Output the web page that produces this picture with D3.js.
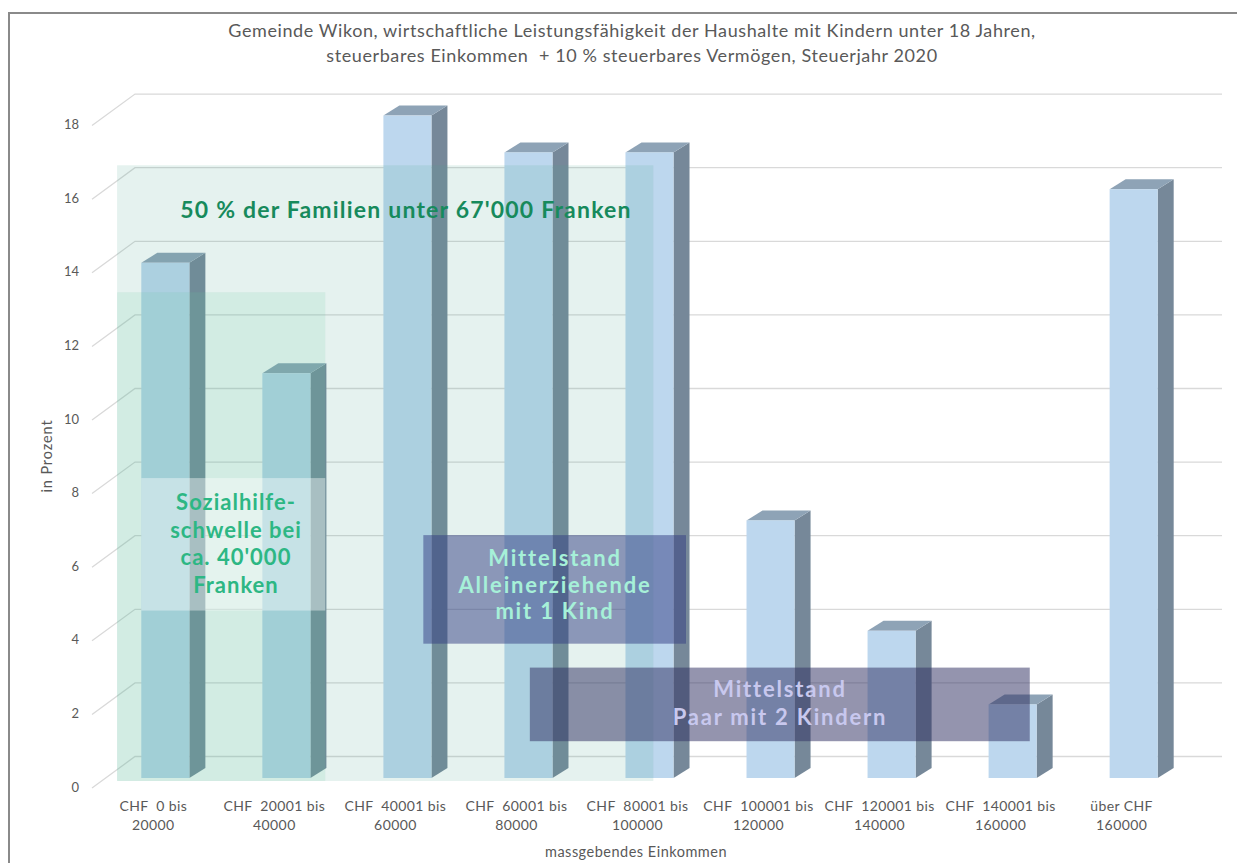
<!DOCTYPE html>
<html><head><meta charset="utf-8">
<script src="https://cdn.jsdelivr.net/npm/d3@7/dist/d3.min.js"></script>
<style>
html,body{margin:0;padding:0;background:#fff;}
svg{display:block;font-family:Lato,"Open Sans",sans-serif;}
</style></head>
<body><svg id="c" width="1237" height="863"></svg>
<script>
// ---- data ----
const categories = ["0-20000","20001-40000","40001-60000","60001-80000","80001-100000","100001-120000","120001-140000","140001-160000","über 160000"];
const labelLine1 = ["CHF  0 bis","CHF  20001 bis","CHF  40001 bis","CHF  60001 bis","CHF  80001 bis","CHF  100001 bis","CHF  120001 bis","CHF  140001 bis","über CHF"];
const labelLine2 = ["20000","40000","60000","80000","100000","120000","140000","160000","160000"];
const values = [14, 11, 18, 17, 17, 7, 4, 2, 16];
const yTicks = [0, 2, 4, 6, 8, 10, 12, 14, 16, 18];
const titleLines = ["Gemeinde Wikon, wirtschaftliche Leistungsfähigkeit der Haushalte mit Kindern unter 18 Jahren,",
                    "steuerbares Einkommen  + 10 % steuerbares Vermögen, Steuerjahr 2020"];
// annotation regions in data units (category index span, value span)
const annoFamilien = {i0: -0.2, i1: 4.23, v0: -0.08, v1: 16.65, text: ["50 % der Familien unter 67'000 Franken"]};
const annoSozial = {i0: -0.2, i1: 1.52, v0: -0.08, v1: 13.2, text: ["Sozialhilfe-","schwelle bei","ca. 40'000","Franken"]};
const annoAllein = {i0: 2.33, i1: 4.5, v0: 3.65, v1: 6.6, text: ["Mittelstand","Alleinerziehende","mit 1 Kind"]};
const annoPaar = {i0: 3.21, i1: 7.34, v0: 1.0, v1: 3.0, text: ["Mittelstand","Paar mit 2 Kindern"]};

const svg = d3.select("#c");
const W = 1237, H = 863;

// border
svg.append("rect").attr("x", 9).attr("y", 13).attr("width", W).attr("height", H)
  .attr("fill", "none").attr("stroke", "#8a8a8a").attr("stroke-width", 2);

// scales
const y = d3.scaleLinear().domain([0, 18]).range([778, 778 - 18 * 36.8]);
const x = d3.scaleBand().domain(categories).range([105, 1194]).paddingInner(0.603).paddingOuter(0.3);
const bw = x.bandwidth();
const step = x.step();
// 3D offsets
const wallDY = -21.5;   // back wall relative to bar front plane
const floorDY = 10;     // front floor edge relative to bar front plane
const sideDX = 16, sideDY = -10;     // bar depth
const wallRight = 1222;
const xLeftFront = 92, xLeftBack = 135;

// grid
svg.append("g").selectAll("path").data(yTicks).join("path")
  .attr("fill", "none").attr("stroke", "#d9d9d9").attr("stroke-width", 1.3)
  .attr("d", v => `M${xLeftFront},${y(v) + floorDY}L${xLeftBack},${y(v) + wallDY}L${wallRight},${y(v) + wallDY}`);

// y tick labels
svg.append("g").selectAll("text").data(yTicks).join("text")
  .attr("x", 79).attr("y", v => y(v) + 9).attr("dy", "0.35em")
  .attr("text-anchor", "end").attr("fill", "#595959").attr("font-size", 13)
  .text(d => d);

// bars
const bars = svg.append("g").selectAll("g").data(values).join("g");
bars.append("path").attr("fill", "#768899")
  .attr("d", (v, i) => {
    const x1 = x(categories[i]) + bw, t = y(v), b = y(0);
    return `M${x1},${t}L${x1 + sideDX},${t + sideDY}L${x1 + sideDX},${b + sideDY}L${x1},${b}Z`;
  });
bars.append("path").attr("fill", "#8ea3b6")
  .attr("d", (v, i) => {
    const x0 = x(categories[i]), t = y(v);
    return `M${x0},${t}L${x0 + sideDX},${t + sideDY}L${x0 + bw + sideDX},${t + sideDY}L${x0 + bw},${t}Z`;
  });
bars.append("rect").attr("fill", "#bdd7ee")
  .attr("x", (v, i) => x(categories[i])).attr("width", bw)
  .attr("y", v => y(v)).attr("height", v => y(0) - y(v));

// x labels
const xl = svg.append("g").attr("fill", "#595959").attr("font-size", 14)
  .attr("letter-spacing", 0.4).attr("text-anchor", "middle");
categories.forEach((c, i) => {
  const cx = x(c) + bw / 2 - 12;
  const t = xl.append("text").attr("x", cx).attr("y", 811).style("white-space", "pre");
  t.append("tspan").attr("x", cx).attr("dy", 0).text(labelLine1[i]);
  t.append("tspan").attr("x", cx).attr("dy", 19).text(labelLine2[i]);
});

// axis titles
svg.append("text").attr("x", 636).attr("y", 857).attr("text-anchor", "middle")
  .attr("fill", "#595959").attr("font-size", 14.5).attr("letter-spacing", 0.5).text("massgebendes Einkommen");
svg.append("text").attr("transform", "translate(52,456) rotate(-90)").attr("text-anchor", "middle")
  .attr("fill", "#595959").attr("font-size", 14.5).attr("letter-spacing", 0.9).text("in Prozent");

// title
svg.append("g").selectAll("text").data(titleLines).join("text")
  .attr("x", 632).attr("y", (d, i) => 37 + i * 25).attr("text-anchor", "middle")
  .attr("fill", "#595959").attr("font-size", 18).attr("letter-spacing", 0.6)
  .style("white-space", "pre").text(d => d);

// annotation helper: index -> x position on bar front plane
const ix = i => x(categories[0]) + i * step;
function box(a, fill, op) {
  return svg.append("rect").attr("x", ix(a.i0)).attr("width", ix(a.i1) - ix(a.i0))
    .attr("y", y(a.v1)).attr("height", y(a.v0) - y(a.v1))
    .attr("fill", fill).attr("fill-opacity", op);
}
function label(lines, cx, y0, lh, color, size, ls) {
  const t = svg.append("text").attr("text-anchor", "middle").attr("fill", color)
    .attr("font-size", size).attr("font-weight", "bold").attr("letter-spacing", ls);
  lines.forEach((l, k) => t.append("tspan").attr("x", cx).attr("y", y0 + k * lh).text(l));
}

box(annoFamilien, "rgb(80,170,150)", 0.15);
box(annoSozial, "rgb(100,200,160)", 0.15);
// inner light box for Sozialhilfe text
svg.append("rect").attr("x", x(categories[0])).attr("width", ix(1.52) - x(categories[0]))
  .attr("y", y(8.15)).attr("height", y(4.55) - y(8.15)).attr("fill", "#ffffff").attr("fill-opacity", 0.4);
label(annoFamilien.text, 406, 218, 0, "#178a5c", 23, 1.2);
label(annoSozial.text, 236, 510, 27.5, "#2db784", 22, 1.0);

box(annoAllein, "rgb(50,60,130)", 0.5);
label(annoAllein.text, 555, 566, 26.5, "#a6f0d8", 22, 1.8);
box(annoPaar, "rgb(50,50,100)", 0.52);
label(annoPaar.text, 780, 697, 27.5, "#c8c8ee", 22, 1.8);
</script></body></html>
